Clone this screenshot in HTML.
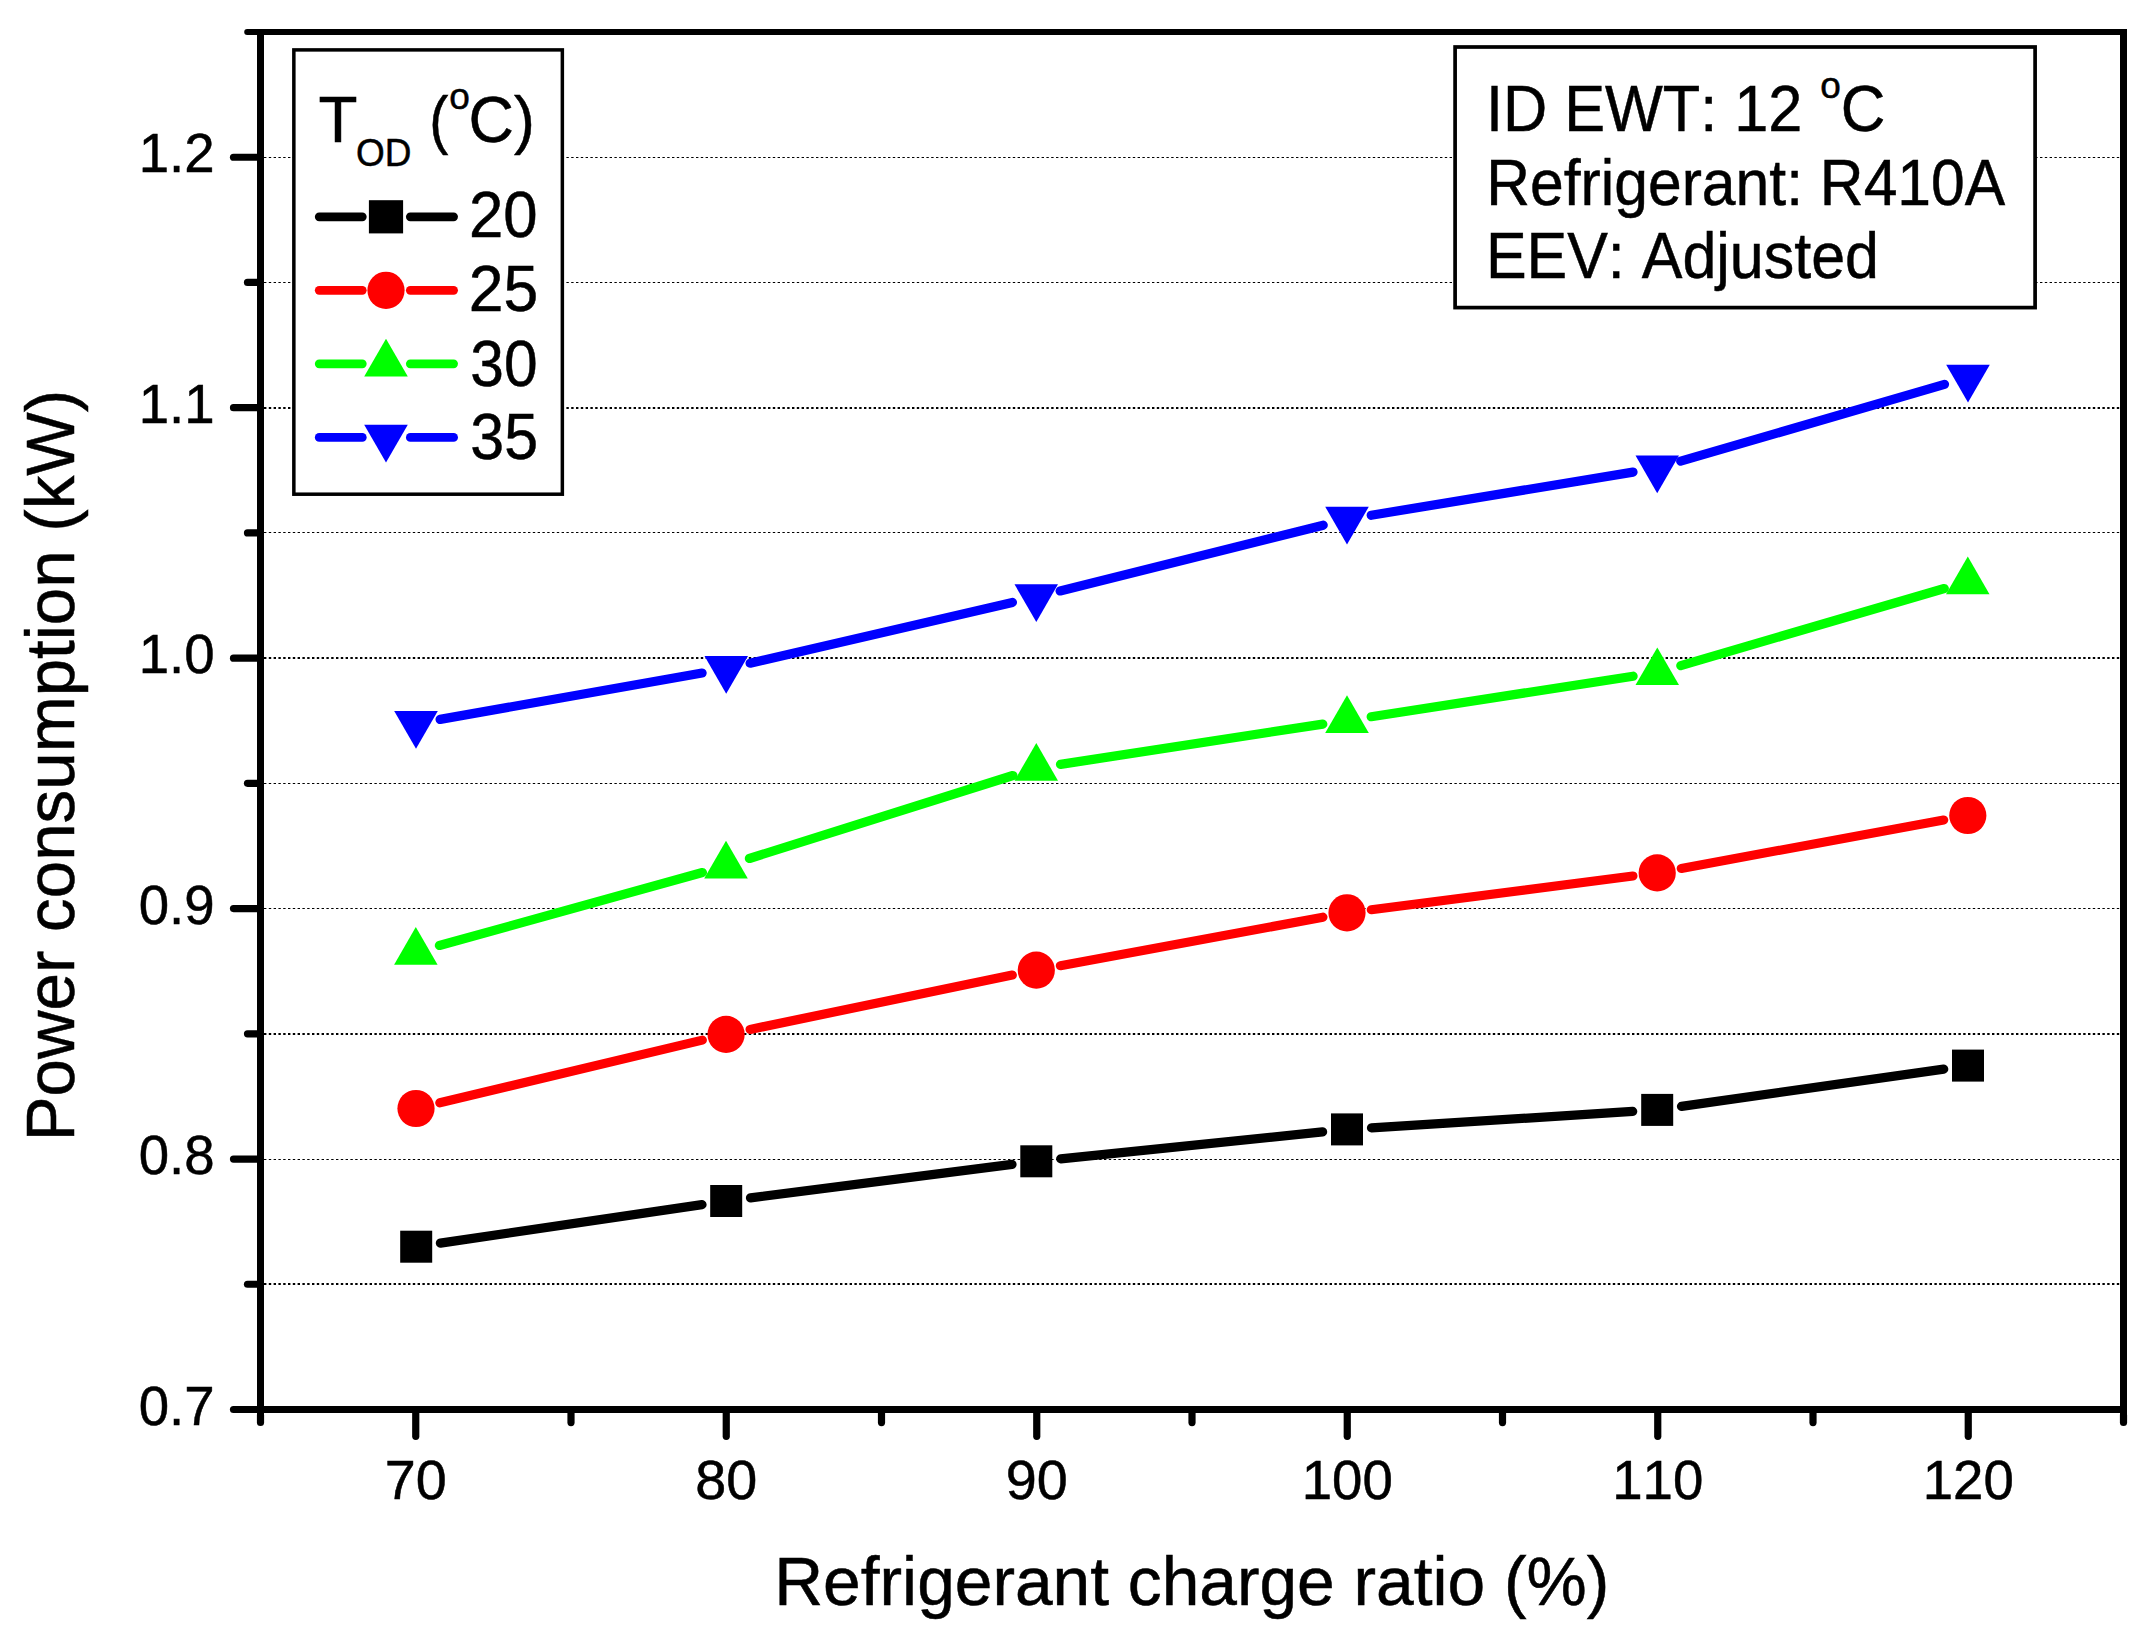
<!DOCTYPE html>
<html lang="en">
<head>
<meta charset="utf-8">
<title>Power consumption vs refrigerant charge ratio</title>
<style>
html,body{margin:0;padding:0;background:#fff;}
body{width:2152px;height:1641px;overflow:hidden;}
svg{display:block;}
text{font-family:"Liberation Sans",sans-serif;fill:#000;stroke:#000;stroke-width:0.5px;font-kerning:none;}
</style>
</head>
<body>
<svg width="2152" height="1641" viewBox="0 0 2152 1641">
<rect x="0" y="0" width="2152" height="1641" fill="#ffffff"/>
<g stroke="#000" fill="none" stroke-dasharray="2.4 2.4">
<line x1="264" y1="1284.0" x2="2120" y2="1284.0" stroke-width="2"/>
<line x1="264" y1="1159.5" x2="2120" y2="1159.5" stroke-width="1"/>
<line x1="264" y1="1034.0" x2="2120" y2="1034.0" stroke-width="2"/>
<line x1="264" y1="908.5" x2="2120" y2="908.5" stroke-width="1"/>
<line x1="264" y1="783.5" x2="2120" y2="783.5" stroke-width="1"/>
<line x1="264" y1="658.0" x2="2120" y2="658.0" stroke-width="2"/>
<line x1="264" y1="532.5" x2="2120" y2="532.5" stroke-width="1"/>
<line x1="264" y1="408.0" x2="2120" y2="408.0" stroke-width="2"/>
<line x1="264" y1="282.5" x2="2120" y2="282.5" stroke-width="1"/>
<line x1="264" y1="157.5" x2="2120" y2="157.5" stroke-width="1"/>
</g>
<g stroke="#000000" stroke-width="9.2" stroke-linecap="round" fill="none">
<line x1="440.4" y1="1243.1" x2="702.0" y2="1204.6"/>
<line x1="750.5" y1="1197.9" x2="1012.0" y2="1164.4"/>
<line x1="1060.7" y1="1158.8" x2="1322.6" y2="1131.9"/>
<line x1="1371.5" y1="1127.9" x2="1632.7" y2="1111.4"/>
<line x1="1681.5" y1="1106.4" x2="1943.7" y2="1069.1"/>
</g>
<g>
<rect x="400.2" y="1230.7" width="32" height="32" fill="#000000"/>
<rect x="710.2" y="1185.0" width="32" height="32" fill="#000000"/>
<rect x="1020.3" y="1145.3" width="32" height="32" fill="#000000"/>
<rect x="1331.0" y="1113.4" width="32" height="32" fill="#000000"/>
<rect x="1641.2" y="1093.9" width="32" height="32" fill="#000000"/>
<rect x="1952.0" y="1049.6" width="32" height="32" fill="#000000"/>
</g>
<g stroke="#ff0000" stroke-width="9.2" stroke-linecap="round" fill="none">
<line x1="439.8" y1="1102.8" x2="702.3" y2="1040.1"/>
<line x1="750.1" y1="1029.4" x2="1012.3" y2="975.1"/>
<line x1="1060.4" y1="965.7" x2="1322.9" y2="917.2"/>
<line x1="1371.3" y1="909.7" x2="1632.9" y2="876.0"/>
<line x1="1681.3" y1="868.4" x2="1943.7" y2="820.0"/>
</g>
<g>
<circle cx="416.0" cy="1108.5" r="18.6" fill="#ff0000"/>
<circle cx="726.1" cy="1034.4" r="18.6" fill="#ff0000"/>
<circle cx="1036.3" cy="970.1" r="18.6" fill="#ff0000"/>
<circle cx="1347.0" cy="912.8" r="18.6" fill="#ff0000"/>
<circle cx="1657.2" cy="872.9" r="18.6" fill="#ff0000"/>
<circle cx="1967.8" cy="815.5" r="18.6" fill="#ff0000"/>
</g>
<g stroke="#00ff00" stroke-width="9.2" stroke-linecap="round" fill="none">
<line x1="439.4" y1="945.5" x2="702.4" y2="872.5"/>
<line x1="749.4" y1="858.5" x2="1012.9" y2="775.5"/>
<line x1="1060.5" y1="764.4" x2="1322.8" y2="724.1"/>
<line x1="1371.2" y1="716.7" x2="1633.1" y2="676.2"/>
<line x1="1680.8" y1="665.6" x2="1944.3" y2="588.5"/>
</g>
<g>
<polygon points="415.8,927.0 394.1,964.7 437.6,964.7" fill="#00ff00"/>
<polygon points="726.0,840.8 704.2,878.5 747.8,878.5" fill="#00ff00"/>
<polygon points="1036.3,743.0 1014.5,780.7 1058.0,780.7" fill="#00ff00"/>
<polygon points="1347.0,695.3 1325.2,733.0 1368.8,733.0" fill="#00ff00"/>
<polygon points="1657.3,647.4 1635.5,685.1 1679.0,685.1" fill="#00ff00"/>
<polygon points="1967.8,556.5 1946.0,594.2 1989.5,594.2" fill="#00ff00"/>
</g>
<g stroke="#0000ff" stroke-width="9.2" stroke-linecap="round" fill="none">
<line x1="440.1" y1="719.4" x2="702.1" y2="673.0"/>
<line x1="750.1" y1="663.2" x2="1012.4" y2="602.4"/>
<line x1="1060.1" y1="591.0" x2="1323.2" y2="525.2"/>
<line x1="1371.2" y1="515.3" x2="1633.0" y2="472.1"/>
<line x1="1680.7" y1="461.2" x2="1944.5" y2="384.3"/>
</g>
<g>
<polygon points="416.0,748.8 394.2,711.1 437.8,711.1" fill="#0000ff"/>
<polygon points="726.2,693.8 704.5,656.1 748.0,656.1" fill="#0000ff"/>
<polygon points="1036.3,622.0 1014.5,584.3 1058.0,584.3" fill="#0000ff"/>
<polygon points="1347.0,544.4 1325.2,506.7 1368.8,506.7" fill="#0000ff"/>
<polygon points="1657.2,493.2 1635.5,455.5 1679.0,455.5" fill="#0000ff"/>
<polygon points="1968.0,402.5 1946.2,364.8 1989.8,364.8" fill="#0000ff"/>
</g>
<g stroke="#000" fill="none" stroke-linecap="butt">
<line x1="247" y1="32" x2="2127" y2="32" stroke-width="6" />
<line x1="260.5" y1="29" x2="260.5" y2="1423" stroke-width="7"/>
<line x1="2123.5" y1="29" x2="2123.5" y2="1423" stroke-width="7"/>
<line x1="233" y1="1409.5" x2="2127" y2="1409.5" stroke-width="7"/>
</g>
<g stroke="#000" stroke-width="7.2" stroke-linecap="round" fill="none">
<line x1="247.2" y1="32" x2="256" y2="32" stroke-width="6"/>
<line x1="260.5" y1="1415" x2="260.5" y2="1422.5"/>
<line x1="2123.5" y1="1415" x2="2123.5" y2="1422.5"/>
<line x1="233.5" y1="1409.50" x2="258" y2="1409.50"/>
<line x1="233.5" y1="1159.05" x2="258" y2="1159.05"/>
<line x1="233.5" y1="908.59" x2="258" y2="908.59"/>
<line x1="233.5" y1="658.14" x2="258" y2="658.14"/>
<line x1="233.5" y1="407.68" x2="258" y2="407.68"/>
<line x1="233.5" y1="157.23" x2="258" y2="157.23"/>
<line x1="247.5" y1="1284.27" x2="258" y2="1284.27"/>
<line x1="247.5" y1="1033.82" x2="258" y2="1033.82"/>
<line x1="247.5" y1="783.36" x2="258" y2="783.36"/>
<line x1="247.5" y1="532.91" x2="258" y2="532.91"/>
<line x1="247.5" y1="282.45" x2="258" y2="282.45"/>
<line x1="415.75" y1="1412" x2="415.75" y2="1436.3" stroke-width="7.2"/>
<line x1="726.25" y1="1412" x2="726.25" y2="1436.3" stroke-width="7.2"/>
<line x1="1036.75" y1="1412" x2="1036.75" y2="1436.3" stroke-width="7.2"/>
<line x1="1347.25" y1="1412" x2="1347.25" y2="1436.3" stroke-width="7.2"/>
<line x1="1657.75" y1="1412" x2="1657.75" y2="1436.3" stroke-width="7.2"/>
<line x1="1968.25" y1="1412" x2="1968.25" y2="1436.3" stroke-width="7.2"/>
<line x1="571.00" y1="1412" x2="571.00" y2="1422.6" stroke-width="7.2"/>
<line x1="881.50" y1="1412" x2="881.50" y2="1422.6" stroke-width="7.2"/>
<line x1="1192.00" y1="1412" x2="1192.00" y2="1422.6" stroke-width="7.2"/>
<line x1="1502.50" y1="1412" x2="1502.50" y2="1422.6" stroke-width="7.2"/>
<line x1="1813.00" y1="1412" x2="1813.00" y2="1422.6" stroke-width="7.2"/>
</g>
<g font-size="54.6" text-anchor="end">
<text x="214.6" y="1424.6">0.7</text>
<text x="214.6" y="1174.1">0.8</text>
<text x="214.6" y="923.7">0.9</text>
<text x="214.6" y="673.2">1.0</text>
<text x="214.6" y="422.8">1.1</text>
<text x="214.6" y="172.3">1.2</text>
</g>
<text transform="translate(384.75,1498.80) scale(1.0170,1)" font-size="54.80">70</text>
<text transform="translate(695.25,1498.80) scale(1.0170,1)" font-size="54.80">80</text>
<text transform="translate(1005.75,1498.80) scale(1.0170,1)" font-size="54.80">90</text>
<text transform="translate(1301.67,1498.80) scale(0.9970,1)" font-size="54.80">100</text>
<text transform="translate(1612.17,1498.80) scale(0.9970,1)" font-size="54.80">110</text>
<text transform="translate(1922.67,1498.80) scale(0.9970,1)" font-size="54.80">120</text>
<text transform="translate(774.25,1604.60) scale(0.9896,1)" font-size="68.40">Refrigerant charge ratio (%)</text>
<text transform="translate(74.1,1135.8) rotate(-90) translate(-5.52,0) scale(0.9810,1)" font-size="68.60">Power consumption (kW)</text>
<rect x="293.85" y="49.9" width="268.5" height="444.3" fill="#fff" stroke="#000" stroke-width="3.5"/>
<text transform="translate(318.57,141.90) scale(0.9783,1)" font-size="65.26">T</text>
<text transform="translate(356.05,165.70) scale(0.9665,1)" font-size="38.23">OD</text>
<text transform="translate(429.24,141.90) scale(0.8784,1)" font-size="65.26">(</text>
<text transform="translate(449.24,108.70) scale(1.0159,1)" font-size="36.48">o</text>
<text transform="translate(468.61,141.90) scale(0.9626,1)" font-size="65.26">C)</text>
<g stroke="#000000" stroke-width="8.7" stroke-linecap="round">
<line x1="319.2" y1="216.8" x2="362.3" y2="216.8"/>
<line x1="410.3" y1="216.8" x2="453.6" y2="216.8"/>
</g>
<rect x="368.9" y="200.2" width="34.2" height="33.2" fill="#000"/>
<text transform="translate(468.90,237.00) scale(0.9580,1)" font-size="64.39">20</text>
<g stroke="#ff0000" stroke-width="8.7" stroke-linecap="round">
<line x1="319.2" y1="290.3" x2="362.3" y2="290.3"/>
<line x1="410.3" y1="290.3" x2="453.6" y2="290.3"/>
</g>
<circle cx="386.0" cy="290.3" r="18.6" fill="#ff0000"/>
<text transform="translate(468.66,311.20) scale(0.9699,1)" font-size="64.39">25</text>
<g stroke="#00ff00" stroke-width="8.7" stroke-linecap="round">
<line x1="319.2" y1="363.8" x2="362.3" y2="363.8"/>
<line x1="410.3" y1="363.8" x2="453.6" y2="363.8"/>
</g>
<polygon points="386.0,338.7 364.2,376.4 407.8,376.4" fill="#00ff00"/>
<text transform="translate(470.30,385.60) scale(0.9392,1)" font-size="64.39">30</text>
<g stroke="#0000ff" stroke-width="8.7" stroke-linecap="round">
<line x1="319.2" y1="437.4" x2="362.3" y2="437.4"/>
<line x1="410.3" y1="437.4" x2="453.6" y2="437.4"/>
</g>
<polygon points="386.0,462.5 364.2,424.8 407.8,424.8" fill="#0000ff"/>
<text transform="translate(470.28,459.40) scale(0.9464,1)" font-size="64.39">35</text>
<rect x="1455.1" y="47" width="580" height="260.6" fill="#fff" stroke="#000" stroke-width="3.7"/>
<text transform="translate(1485.95,131.20) scale(0.9362,1)" font-size="65.41">ID EWT: 12</text>
<text transform="translate(1820.14,97.60) scale(1.0039,1)" font-size="36.92">o</text>
<text transform="translate(1840.86,131.20) scale(0.9439,1)" font-size="65.41">C</text>
<text transform="translate(1486.23,205.20) scale(0.9387,1)" font-size="64.60">Refrigerant: R410A</text>
<text transform="translate(1485.90,277.90) scale(0.9438,1)" font-size="64.60">EEV: Adjusted</text>
</svg>
</body>
</html>
